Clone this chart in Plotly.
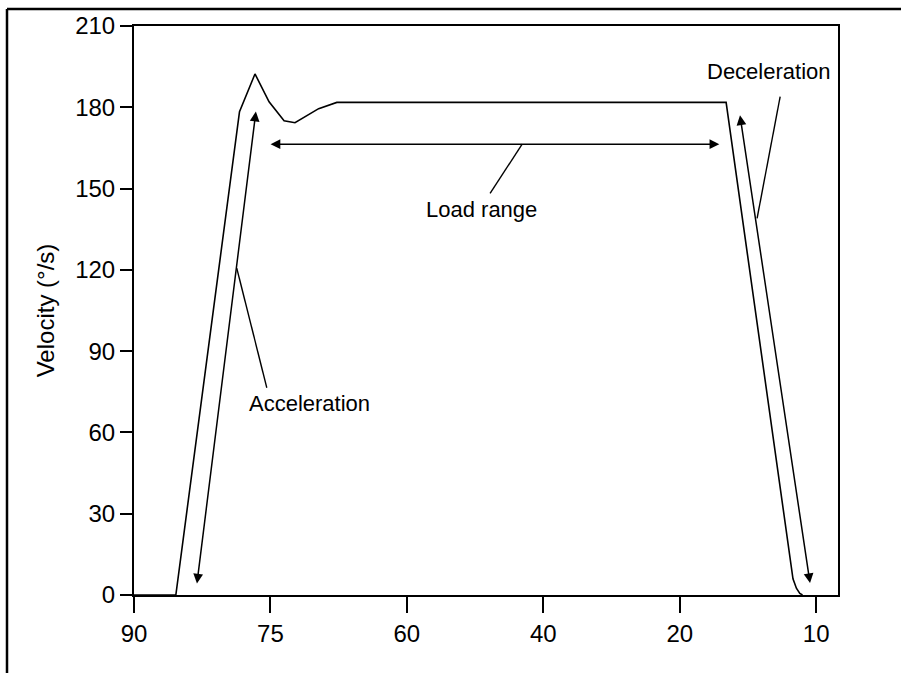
import numpy as np
import plotly.graph_objects as go

# Angle axis: labelled ticks are evenly spaced on the page
tick_deg = [90, 75, 60, 40, 20, 10]
tick_pos = [0, 1, 2, 3, 4, 5]
vel_ticks = [0, 30, 60, 90, 120, 150, 180, 210]

# Velocity profile of the isokinetic movement (angle in degrees, velocity in deg/s)
angle = [90, 85.4, 78.4, 76.7, 75.15, 73.5, 72.3, 69.7, 67.7, 16.6, 11.7, 11.45, 11.2, 11.0]
velocity = [0, 0, 178.4, 192.3, 182, 175, 174.3, 179.5, 181.8, 181.8, 6.0, 2.5, 0.6, 0]

# Double-headed arrows: (start angle, start velocity, end angle, end velocity)
accel_arrow = (83.1, 3.7, 76.6, 178.4)
load_arrow = (75.15, 166.4, 17.1, 166.4)
decel_arrow = (15.6, 177.6, 10.45, 4.4)

# Leader lines from labels to arrows
accel_leader = ([78.7, 75.4], [120.6, 76.5])
load_leader = ([43.1, 47.8], [166.4, 148.2])
decel_leader = ([12.64, 14.33], [183.9, 139.0])

# Label texts and anchor points
labels = [("Acceleration", 70.75, 70.6), ("Load range", 49.1, 142.3), ("Deceleration", 13.45, 193.1)]


def pos(deg):
    d = np.asarray(deg, dtype=float)
    return np.interp(-d, -np.asarray(tick_deg, float), tick_pos)


FONT = "Liberation Sans, Arial, sans-serif"

fig = go.Figure()
fig.add_trace(go.Scatter(x=pos(angle), y=velocity, mode="lines",
                         line=dict(color="black", width=1.6), hoverinfo="skip"))
for lx, ly in (accel_leader, load_leader, decel_leader):
    fig.add_trace(go.Scatter(x=pos(lx), y=ly, mode="lines",
                             line=dict(color="black", width=1.4), hoverinfo="skip"))

annotations = []
for a0, v0, a1, v1 in (accel_arrow, load_arrow, decel_arrow):
    annotations.append(dict(
        x=float(pos(a1)), y=v1, ax=float(pos(a0)), ay=v0,
        xref="x", yref="y", axref="x", ayref="y", text="",
        showarrow=True, arrowhead=2, startarrowhead=2, arrowside="end+start",
        arrowsize=1.3, startarrowsize=1.3, arrowwidth=1.5, arrowcolor="black",
        standoff=0, startstandoff=0))
for txt, a, v in labels:
    annotations.append(dict(x=float(pos(a)), y=v, xref="x", yref="y", text=txt,
                            showarrow=False, font=dict(family=FONT, size=22, color="black")))

# Page frame along the top and left edges
L, R, T, B = 134, 63, 24, 78
W, H = 901, 673
pw, ph = W - L - R, H - T - B
fx = (7 - L) / pw
fy = (H - B - 7) / ph
shapes = [
    dict(type="line", xref="paper", yref="paper", x0=fx, x1=(W - L) / pw, y0=fy, y1=fy,
         line=dict(color="black", width=2.5)),
    dict(type="line", xref="paper", yref="paper", x0=fx, x1=fx, y0=fy, y1=-(B + 5) / ph,
         line=dict(color="black", width=2.5)),
]

fig.update_layout(
    width=W, height=H, margin=dict(l=L, r=R, t=T, b=B),
    plot_bgcolor="white", paper_bgcolor="white", showlegend=False,
    font=dict(family=FONT, size=22, color="black"),
    annotations=annotations, shapes=shapes,
)
fig.update_xaxes(range=[0, 5.16], tickvals=tick_pos, ticktext=[str(t) for t in tick_deg],
                 showgrid=False, zeroline=False, showline=True, linecolor="black", linewidth=2,
                 mirror=True, ticks="outside", ticklen=16, tickwidth=1.5, tickcolor="black",
                 tickfont=dict(size=24))
fig.update_yaxes(range=[0, 210], tickvals=vel_ticks, showgrid=False, zeroline=False,
                 showline=True, linecolor="black", linewidth=2, mirror=True,
                 ticks="outside", ticklen=12, tickwidth=1.5, tickcolor="black",
                 tickfont=dict(size=24), title=dict(text="Velocity (°/s)", font=dict(size=24), standoff=14))

fig.write_html("out.html")
